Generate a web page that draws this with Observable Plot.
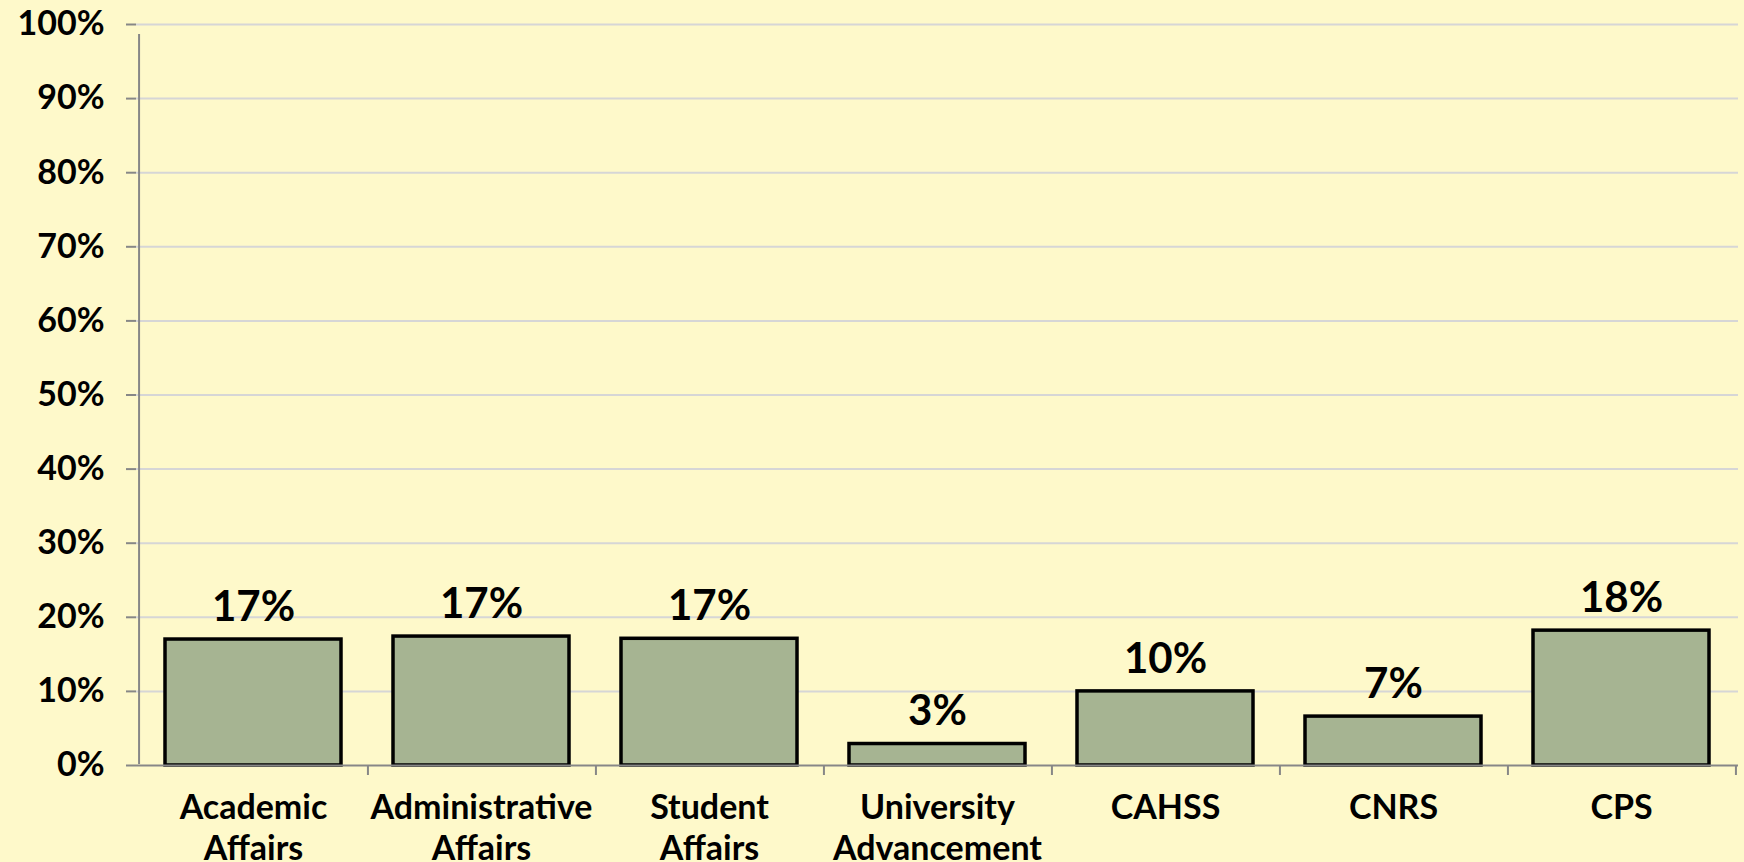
<!DOCTYPE html>
<html>
<head>
<meta charset="utf-8">
<script src="https://cdn.jsdelivr.net/npm/d3@7"></script>
<script src="https://cdn.jsdelivr.net/npm/@observablehq/plot@0.6"></script>
<style>
  html, body { margin: 0; padding: 0; background: #FEF9CA; }
  #chart { width: 1744px; height: 862px; overflow: hidden; }
</style>
</head>
<body>
<div id="chart"></div>
<script>
const categories = ["Academic Affairs", "Administrative Affairs", "Student Affairs", "University Advancement", "CAHSS", "CNRS", "CPS"];
const values = [17.0, 17.4, 17.1, 2.9, 10.0, 6.6, 18.2];
const valueLabels = ["17%", "17%", "17%", "3%", "10%", "7%", "18%"];
const yTicks = [0, 10, 20, 30, 40, 50, 60, 70, 80, 90, 100];

const data = categories.map((c, i) => ({category: c, value: values[i], label: valueLabels[i]}));

const W = 1744, H = 862;
const mL = 136, mR = 6, mT = 24, mB = 97;
const step = (W - mL - mR) / categories.length;
const font = "Lato, 'Open Sans', sans-serif";
const axisGray = "#878787";

const chart = Plot.plot({
  width: W,
  height: H,
  marginLeft: mL,
  marginRight: mR,
  marginTop: mT,
  marginBottom: mB,
  style: {background: "#FEF9CA", fontFamily: font, overflow: "visible"},
  x: {domain: categories, paddingInner: 0.228, paddingOuter: 0.114, axis: null},
  y: {domain: [0, 100], axis: null},
  marks: [
    Plot.gridY(yTicks.filter(d => d > 0), {stroke: "#D6D6D6", strokeOpacity: 1, strokeWidth: 2}),
    Plot.axisY({ticks: yTicks, tickFormat: d => d + "%", tickSize: 10, tickPadding: 22, label: null,
      stroke: axisGray, strokeWidth: 2, fontSize: 34, fontWeight: "bold", fill: "#000"}),
    Plot.barY(data, {x: "category", y: "value", fill: "#A6B492", stroke: "#000", strokeWidth: 3.5}),
    Plot.ruleY([0], {stroke: axisGray, strokeWidth: 2}),
    Plot.ruleX([categories[0]], {x: d => d, dx: -step / 2, y1: 0, y2: 100, insetTop: -1, insetBottom: -10, stroke: axisGray, strokeWidth: 2}),
    Plot.axisX({tickSize: 10, text: null, label: null, dx: step / 2, stroke: axisGray, strokeWidth: 2}),
    Plot.text(data, {x: "category", y: "value", text: "label", dy: -32, fontSize: 42, fontWeight: "bold", fill: "#000"}),
    Plot.text(data, {x: "category", y: () => 0, text: d => d.category.replace(/ /g, "\n"), dy: 25,
      lineAnchor: "top", lineHeight: 1.2, fontSize: 34, fontWeight: "bold", fill: "#000"})
  ]
});
document.getElementById("chart").append(chart);
</script>
</body>
</html>
